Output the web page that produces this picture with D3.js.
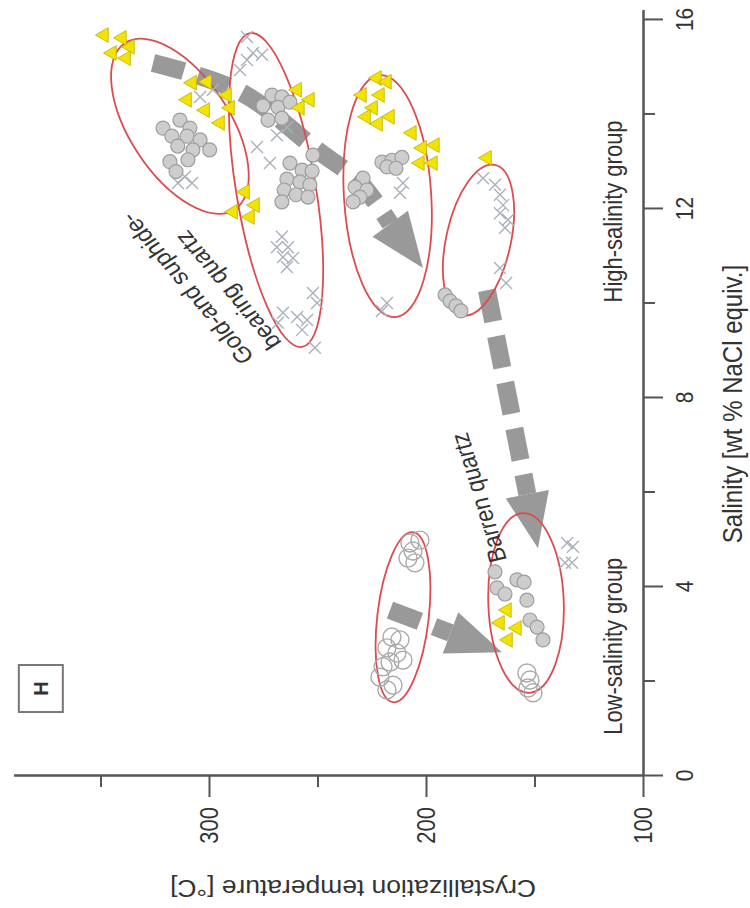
<!DOCTYPE html>
<html>
<head>
<meta charset="utf-8">
<script src="https://cdn.jsdelivr.net/npm/d3@7"></script>
<style>
  html, body { margin: 0; padding: 0; background: #fff; }
  svg text { font-family: "Liberation Sans", Arial, sans-serif; fill: #333; }
</style>
</head>
<body>
<div id="chart"></div>
<script>
// Axis ticks
const salinityTicks = [0, 4, 8, 12, 16];
const salinityMinor = [2, 6, 10, 14];
const tempTicks = [100, 200, 300];
const tempMinor = [150, 250, 350];

// [salinity wt% NaCl eq., temperature °C]
const yellowTriangles = [
    [15.66, 348.4], [15.60, 340.1], [15.41, 336.4], [15.28, 344.7], [15.17, 338.2],
    [14.65, 307.8], [14.67, 300.9], [14.39, 291.7], [14.29, 310.1], [14.07, 301.8], [14.12, 290.3], [13.80, 294.9],
    [12.34, 283.4], [12.06, 278.8], [11.92, 288.9], [11.81, 281.1],
    [14.50, 259.4], [14.29, 253.5], [14.12, 258.1],
    [14.75, 222.6], [14.67, 218.0], [14.39, 229.5], [14.39, 221.2], [14.12, 224.4], [13.93, 227.6], [13.78, 222.1], [13.93, 216.6],
    [13.59, 206.5], [13.27, 201.8], [13.33, 195.9], [12.95, 202.8], [12.95, 196.8],
    [13.06, 171.9],
    [3.49, 162.7], [3.22, 165.9], [3.11, 158.1], [2.86, 162.2]
];

const grayDots = [
    [13.69, 321.2], [13.86, 313.4], [13.69, 308.8], [13.52, 317.1], [13.52, 310.1], [13.44, 304.1],
    [13.31, 314.4], [13.23, 307.4], [13.23, 299.7], [13.02, 309.7], [12.98, 318.0], [12.77, 315.2],
    [14.39, 271.0], [14.35, 266.4], [14.16, 275.1], [14.13, 268.2], [14.24, 262.7], [13.86, 272.8], [13.90, 266.4],
    [13.12, 252.1],
    [12.95, 262.7], [12.80, 257.1], [12.78, 252.5], [12.61, 264.1], [12.55, 258.1], [12.49, 253.5],
    [12.38, 265.4], [12.28, 259.9], [12.23, 254.4], [12.13, 266.4],
    [12.97, 220.3], [13.01, 215.7], [13.07, 211.1], [12.87, 218.0], [12.84, 213.8],
    [12.63, 229.0], [12.44, 232.7], [12.38, 227.2], [12.23, 230.4], [12.13, 233.6],
    [10.16, 191.2], [10.03, 188.9], [9.93, 186.2], [9.82, 183.9],
    [4.30, 168.2], [3.96, 167.3], [3.83, 163.6], [4.13, 158.1], [4.08, 154.8],
    [3.70, 153.5], [3.28, 152.1], [3.13, 148.8], [2.86, 146.1]
];

const openCircles = [
    [4.91, 207.4], [4.97, 202.8], [4.74, 206.0], [4.59, 208.3], [4.49, 205.1],
    [2.92, 215.7], [2.86, 212.0], [2.69, 218.0], [2.58, 213.4], [2.43, 210.6],
    [2.39, 216.6], [2.29, 219.8], [2.07, 221.2], [1.90, 215.2], [1.80, 218.0],
    [2.16, 153.5], [2.01, 152.1], [1.84, 153.0], [1.74, 150.7]
];

const grayCrosses = [
    [12.66, 311.1], [12.53, 314.3], [12.53, 307.8], [14.35, 304.1], [14.50, 298.2],
    [15.62, 282.5], [15.28, 279.7], [15.13, 282.5], [15.24, 275.6], [14.92, 285.7],
    [13.29, 277.9], [13.54, 268.7], [13.71, 264.1], [12.95, 271.9],
    [11.39, 266.4], [11.17, 268.7], [11.17, 263.6], [10.96, 265.9], [10.94, 261.3], [10.75, 264.1],
    [9.78, 265.9], [9.69, 259.4], [9.63, 254.8], [9.99, 250.2], [10.20, 252.1], [9.42, 257.1], [9.04, 251.2], [9.57, 268.2],
    [12.53, 210.6], [12.32, 212.0], [9.99, 218.0], [9.82, 220.3],
    [12.63, 173.7], [12.49, 168.2], [12.28, 165.9], [12.06, 164.5], [11.89, 165.9], [11.75, 162.2], [11.58, 163.6],
    [10.73, 165.9], [10.41, 163.1],
    [4.91, 135.0], [4.83, 132.3], [4.49, 135.9], [4.49, 132.7]
];

// ellipses: [centre salinity, centre temp, major-axis end salinity, end temp, minor/major ratio]
const groupEllipses = [
    [13.73, 313.4, 15.49, 338.7, 0.50],
    [12.38, 269.1, 15.70, 281.1, 0.25],
    [12.25, 217.7, 14.81, 221.2, 0.36],
    [11.32, 175.8, 12.91, 168.2, 0.42],
    [3.34, 210.6, 5.14, 206.0, 0.30],
    [3.64, 153.9, 5.54, 155.3, 0.42]
];

// evolution arrows, list of [salinity, temp] from start to tip
const arrowA = [[15.07, 325.8], [14.46, 285.7], [13.23, 250.2], [12.53, 230.4], [10.73, 201.4]];
const arrowB = [[10.26, 171.9], [4.80, 148.4]];
const arrowC = [[3.49, 216.6], [2.60, 165.0]];

const width = 750, height = 908;
const sx = 1.15; // the scanned figure is a bit wider than tall

const svg = d3.select('#chart')
    .append('svg')
    .attr('width', width)
    .attr('height', height);

// figure is turned a quarter turn: salinity runs up, temperature runs left
const y = d3.scaleLinear().domain([0, 16.2]).range([775, 9.5]);
const x = d3.scaleLinear().domain([100, 390]).range([643, 13.7]);

const axisColor = '#555';

// Salinity axis (right)
svg.append('g')
    .attr('transform', `translate(${x(100)},0)`)
    .call(d3.axisRight(y).tickValues(salinityMinor).tickSize(12).tickSizeOuter(0).tickFormat(''));
const sAxis = svg.append('g')
    .attr('transform', `translate(${x(100)},0)`)
    .call(d3.axisRight(y).tickValues(salinityTicks).tickSize(20).tickSizeOuter(0));
sAxis.selectAll('text')
    .attr('x', 0).attr('dy', null)
    .attr('text-anchor', 'middle')
    .attr('transform', `translate(50,0) scale(${sx},1) rotate(-90)`)
    .style('font-size', '21px');

// Temperature axis (bottom)
svg.append('g')
    .attr('transform', `translate(0,${y(0)})`)
    .call(d3.axisBottom(x).tickValues(tempMinor).tickSize(12).tickSizeOuter(0).tickFormat(''));
const tAxis = svg.append('g')
    .attr('transform', `translate(0,${y(0)})`)
    .call(d3.axisBottom(x).tickValues(tempTicks).tickSize(22).tickSizeOuter(0));
tAxis.selectAll('text')
    .attr('y', 0).attr('dy', '0.35em')
    .attr('text-anchor', 'end')
    .attr('transform', `translate(0,32) scale(${sx},1) rotate(-90)`)
    .style('font-size', '22px');

svg.selectAll('.domain, .tick line')
    .attr('stroke', axisColor)
    .attr('stroke-width', 2);

// Axis titles
svg.append('text')
    .attr('text-anchor', 'middle')
    .attr('transform', `translate(${x(54.4)},${y(7.85)}) scale(${sx},1) rotate(-90)`)
    .style('font-size', '24px')
    .text('Salinity [wt % NaCl equiv.]');

svg.append('text')
    .attr('text-anchor', 'middle')
    .attr('transform', `translate(${x(233.6)},${y(-2.22)}) scale(${sx},1) rotate(180)`)
    .style('font-size', '23px')
    .text('Crystallization temperature [°C]');

// Arrows (drawn first, points sit on top)
const headLen = 55, headHalf = 22;
function drawArrow(data) {
    const p = data.map(d => [x(d[1]), y(d[0])]);
    const tip = p[p.length - 1], prev = p[p.length - 2];
    const len = Math.hypot(tip[0] - prev[0], tip[1] - prev[1]);
    const ux = (tip[0] - prev[0]) / len, uy = (tip[1] - prev[1]) / len;
    const base = [tip[0] - ux * headLen, tip[1] - uy * headLen];
    const shaft = p.slice(0, -1).concat([base]);

    svg.append('path')
        .attr('d', d3.line().curve(d3.curveCatmullRom)(shaft))
        .attr('fill', 'none')
        .attr('stroke', '#999')
        .attr('stroke-width', 18)
        .attr('stroke-dasharray', '32,15');

    svg.append('path')
        .attr('d', d3.line()([
            tip,
            [base[0] - uy * headHalf, base[1] + ux * headHalf],
            [base[0] + uy * headHalf, base[1] - ux * headHalf]
        ]) + 'Z')
        .attr('fill', '#999');
}
[arrowA, arrowB, arrowC].forEach(drawArrow);

// Ellipses
svg.append('g')
    .selectAll('ellipse')
    .data(groupEllipses)
    .enter()
    .append('ellipse')
    .each(function (d) {
        const cx = x(d[1]), cy = y(d[0]);
        const ex = x(d[3]), ey = y(d[2]);
        const rx = Math.hypot(ex - cx, ey - cy);
        const ang = Math.atan2(ey - cy, ex - cx) * 180 / Math.PI;
        d3.select(this)
            .attr('rx', rx)
            .attr('ry', rx * d[4])
            .attr('transform', `translate(${cx},${cy}) rotate(${ang})`);
    })
    .attr('fill', 'none')
    .attr('stroke', '#dd4b4e')
    .attr('stroke-width', 1.8);

// Crosses
const cr = 6;
svg.append('g')
    .selectAll('path')
    .data(grayCrosses)
    .enter()
    .append('path')
    .attr('d', d => {
        const cx = x(d[1]), cy = y(d[0]);
        return `M${cx - cr},${cy - cr}L${cx + cr},${cy + cr}M${cx - cr},${cy + cr}L${cx + cr},${cy - cr}`;
    })
    .attr('stroke', '#aab1bd')
    .attr('stroke-width', 1.4)
    .attr('fill', 'none');

// Open circles
svg.append('g')
    .selectAll('circle')
    .data(openCircles)
    .enter()
    .append('circle')
    .attr('cx', d => x(d[1]))
    .attr('cy', d => y(d[0]))
    .attr('r', 9)
    .attr('fill', 'none')
    .attr('stroke', '#aaa')
    .attr('stroke-width', 1.4);

// Gray filled circles
svg.append('g')
    .selectAll('circle')
    .data(grayDots)
    .enter()
    .append('circle')
    .attr('cx', d => x(d[1]))
    .attr('cy', d => y(d[0]))
    .attr('r', 7)
    .attr('fill', '#cdcdcd')
    .attr('stroke', '#9d9d9d')
    .attr('stroke-width', 1.2);

// Yellow triangles (pointing toward higher temperature)
const tri = d3.symbol().type(d3.symbolTriangle).size(95);
svg.append('g')
    .selectAll('path')
    .data(yellowTriangles)
    .enter()
    .append('path')
    .attr('d', tri)
    .attr('transform', d => `translate(${x(d[1])},${y(d[0])}) rotate(-90)`)
    .attr('fill', '#f3e300')
    .attr('stroke', '#c2b000')
    .attr('stroke-width', 0.8);

// Labels
function label(txt, t, s, angle, size) {
    svg.append('text')
        .attr('transform', `translate(${x(t)},${y(s)}) scale(${sx},1) rotate(${angle})`)
        .style('font-size', size + 'px')
        .text(txt);
}
label('High-salinity group', 109.7, 10.0, -90, 22);
label('Low-salinity group', 109.7, 0.85, -90, 22);
label('Barren quartz', 162.7, 4.55, -105, 22);
label('Gold-and suphide-', 278.8, 8.84, -126, 22);
label('bearing quartz', 266.2, 9.15, -126, 22);

// Panel letter box
const box = svg.append('g')
    .attr('transform', `translate(${x(377.5)},${y(1.83)})`);
box.append('rect')
    .attr('x', -22).attr('y', -23.5)
    .attr('width', 44).attr('height', 47)
    .attr('fill', '#fff')
    .attr('stroke', '#777')
    .attr('stroke-width', 2);
box.append('text')
    .attr('text-anchor', 'middle')
    .attr('dy', '0.36em')
    .attr('transform', 'rotate(-90)')
    .style('font-size', '20px')
    .style('font-weight', 'bold')
    .text('H');
</script>
</body>
</html>
